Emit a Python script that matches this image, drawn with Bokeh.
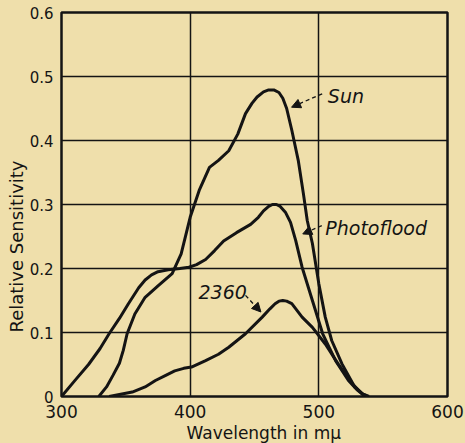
from bokeh.plotting import figure
from bokeh.models import FixedTicker, Range1d, Arrow, NormalHead, Label, Title
from bokeh.embed import file_html
from bokeh.resources import INLINE

# Data
sun_x = [329, 335, 340, 345, 348, 351, 357, 365, 375, 386, 393, 400, 407, 415, 422, 430, 437, 443, 448, 452, 457, 461, 465, 469, 472, 475, 479, 484, 488, 491, 495, 500, 505, 510, 518, 528, 534, 539]
sun_y = [0, 0.015, 0.033, 0.052, 0.072, 0.098, 0.129, 0.155, 0.173, 0.192, 0.223, 0.28, 0.322, 0.358, 0.369, 0.384, 0.41, 0.442, 0.458, 0.468, 0.476, 0.479, 0.479, 0.475, 0.466, 0.45, 0.416, 0.369, 0.317, 0.275, 0.239, 0.176, 0.124, 0.0875, 0.051, 0.0145, 0.004, 0]

photo_x = [300, 310, 321, 330, 337, 345, 352, 360, 365, 370, 375, 383, 392, 399, 405, 412, 419, 426, 436, 447, 453, 457, 461, 464, 467, 470, 474, 478, 482, 487, 495, 503, 513, 523, 530, 536]
photo_y = [0, 0.024, 0.05, 0.075, 0.098, 0.122, 0.145, 0.17, 0.182, 0.19, 0.195, 0.198, 0.2, 0.202, 0.206, 0.214, 0.228, 0.243, 0.256, 0.269, 0.28, 0.29, 0.297, 0.300, 0.300, 0.297, 0.288, 0.272, 0.244, 0.202, 0.15, 0.098, 0.056, 0.025, 0.01, 0]

t2360_x = [337, 345, 355, 365, 373, 381, 388, 395, 401, 412, 422, 430, 443, 456, 462, 466, 469, 472, 475, 479, 487, 495, 505, 515, 526, 534, 538]
t2360_y = [0, 0.003, 0.007, 0.015, 0.025, 0.033, 0.04, 0.044, 0.046, 0.056, 0.066, 0.077, 0.098, 0.124, 0.137, 0.145, 0.149, 0.15, 0.149, 0.145, 0.124, 0.108, 0.082, 0.051, 0.02, 0.004, 0]

x_ticks = [300, 400, 500, 600]
y_ticks = [0, 0.1, 0.2, 0.3, 0.4, 0.5, 0.6]
y_tick_labels = ["0", "0.1", "0.2", "0.3", "0.4", "0.5", "0.6"]
x_title = "Wavelength in m\u03bc"
y_title = "Relative Sensitivity"

BG = "#efdfab"
INK = "#141414"
FONT = "DejaVu Sans"

p = figure(width=465, height=443, x_range=Range1d(300, 600), y_range=Range1d(0, 0.6),
           output_backend="svg", toolbar_location=None,
           min_border_left=61, min_border_right=18, min_border_top=12, min_border_bottom=47)
p.background_fill_color = BG
p.border_fill_color = BG
p.outline_line_color = INK
p.outline_line_width = 2.5

for ax in (p.xaxis, p.yaxis):
    ax.axis_line_color = None
    ax.major_tick_line_color = None
    ax.minor_tick_line_color = None
    ax.major_tick_out = 0
    ax.major_label_text_font = FONT
    ax.major_label_text_color = INK
    ax.axis_label_standoff = 0

p.xaxis.ticker = FixedTicker(ticks=x_ticks)
p.yaxis.ticker = FixedTicker(ticks=y_ticks)
p.yaxis.major_label_overrides = {t: l for t, l in zip(y_ticks, y_tick_labels)}
p.xaxis.major_label_text_font_size = "17px"
p.yaxis.major_label_text_font_size = "15px"
p.xaxis.major_label_standoff = 8
p.yaxis.major_label_standoff = 8

p.xgrid.ticker = FixedTicker(ticks=x_ticks)
p.ygrid.ticker = FixedTicker(ticks=y_ticks)
for g in (p.xgrid, p.ygrid):
    g.grid_line_color = INK
    g.grid_line_width = 1.5

for xs, ys in ((sun_x, sun_y), (photo_x, photo_y), (t2360_x, t2360_y)):
    p.line(xs, ys, line_color=INK, line_width=3, line_join="round")

# axis titles as side titles (positioned by pixel offset along the frame)
p.add_layout(Title(text=x_title, align="left", offset=125, standoff=0,
                   text_font=FONT, text_font_size="17px", text_font_style="normal",
                   text_color=INK), "below")
p.add_layout(Title(text=y_title, align="left", offset=64, standoff=0,
                   text_font=FONT, text_font_size="18px", text_font_style="normal",
                   text_color=INK), "left")

def note(text, x, y, ax0, ay0, ax1, ay1):
    p.add_layout(Label(x=x, y=y, text=text, text_font=FONT, text_font_style="italic",
                       text_font_size="19px", text_color=INK, text_baseline="middle"))
    p.add_layout(Arrow(end=NormalHead(size=9, fill_color=INK, line_color=INK, line_width=1),
                       x_start=ax0, y_start=ay0, x_end=ax1, y_end=ay1,
                       line_color=INK, line_width=1.3, line_dash="4 3"))

note("Sun", 507, 0.47, 502.6, 0.473, 478.8, 0.452)
note("Photoflood", 505, 0.263, 502.3, 0.267, 487.5, 0.254)
note("2360", 406.5, 0.163, 443, 0.158, 455, 0.132)

html = file_html(p, INLINE)
html = html.replace("<head>", "<head><style>html,body{background:%s;overflow:hidden;}</style>" % BG, 1)
open("out.html", "w").write(html)
